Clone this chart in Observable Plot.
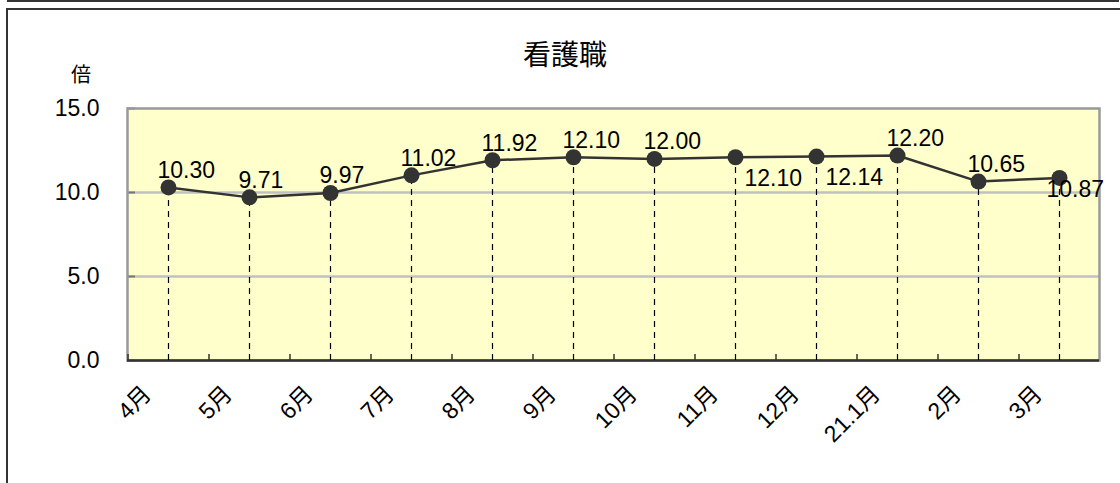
<!DOCTYPE html>
<html>
<head>
<meta charset="utf-8">
<script src="https://cdn.jsdelivr.net/npm/d3@7"></script>
<script src="https://cdn.jsdelivr.net/npm/@observablehq/plot@0.6"></script>
<style>
  html, body { margin: 0; padding: 0; background: #fff; }
  body { width: 1120px; height: 483px; position: relative; overflow: hidden; }
  #prevbox { position: absolute; left: 7px; top: -52px; width: 1112px; height: 54px; box-sizing: border-box; border: 2px solid #333; }
  #box { position: absolute; left: 6px; top: 8px; width: 1130px; height: 600px; box-sizing: border-box; border: 2px solid #333; }
  #title { position: absolute; left: 465px; width: 200px; top: 37px; text-align: center; font: 28px/32px "Noto Sans CJK JP", sans-serif; color: #000; }
  #unit { position: absolute; left: 61px; width: 40px; top: 62px; text-align: center; font: 20px/24px "Noto Sans CJK JP", sans-serif; color: #000; }
  #chart { position: absolute; left: 0; top: 0; }
</style>
</head>
<body>
<div id="prevbox"></div>
<div id="box"></div>
<div id="title">看護職</div>
<div id="unit">倍</div>
<div id="chart"></div>
<script>
// ---- data ----
const months = ["4月","5月","6月","7月","8月","9月","10月","11月","12月","21.1月","2月","3月"];
const values = [10.30, 9.71, 9.97, 11.02, 11.92, 12.10, 12.00, 12.10, 12.14, 12.20, 10.65, 10.87];
const labelPlacement = ["above","above","above","above","above","above","above","below","below","above","above","under"];
const yTicks = [0, 5, 10, 15];

const data = months.map((m, i) => ({month: m, value: values[i], place: labelPlacement[i]}));

// ---- layout ----
const W = 1120, H = 483;
const mL = 127, mR = 21, mT = 108, mB = 123;
const plotW = W - mL - mR, plotH = H - mT - mB;
const step = plotW / months.length;

const numFont = '"Liberation Sans", "Noto Sans CJK JP", sans-serif';
const lblFont = '"Liberation Sans", "Noto Sans CJK JP", sans-serif';

const placeStyle = {
  above: {dx: -11, dy: -17},
  below: {dx: 9, dy: 21},
  under: {dx: -13, dy: 12}
};

const chart = Plot.plot({
  width: W,
  height: H,
  marginLeft: mL,
  marginRight: mR,
  marginTop: mT,
  marginBottom: mB,
  style: {background: "transparent", overflow: "visible", fontFamily: numFont},
  x: {type: "point", domain: months, padding: 0.5, axis: null},
  y: {domain: [0, 15], axis: null},
  marks: [
    Plot.frame({fill: "#ffffcc", stroke: null}),
    Plot.ruleY([5, 10], {stroke: "#c0c0c0", strokeWidth: 2.5}),
    Plot.ruleY(yTicks, {stroke: "#777", strokeWidth: 2, insetRight: plotW - 8}),
    Plot.frame({stroke: "#999", strokeWidth: 2.5}),
    Plot.ruleY([0], {stroke: "#333", strokeWidth: 2.5}),
    Plot.ruleX(months, {x: d => d, dx: -step / 2, insetTop: plotH - 6, stroke: "#333", strokeWidth: 1.5}),
    Plot.ruleX(data, {x: "month", y1: 0, y2: "value", stroke: "#000", strokeWidth: 1.2, strokeDasharray: "6,5", insetBottom: 2}),
    Plot.line(data, {x: "month", y: "value", stroke: "#333", strokeWidth: 2.5}),
    Plot.dot(data, {x: "month", y: "value", r: 8, fill: "#333", stroke: null}),
    ...Object.entries(placeStyle).map(([p, s]) =>
      Plot.text(data.filter(d => d.place === p), {
        x: "month", y: "value", text: d => d.value.toFixed(2),
        textAnchor: "start", dx: s.dx, dy: s.dy, fontSize: 23, fill: "#000",
        fontFamily: numFont
      })
    ),
    Plot.text(yTicks, {
      y: d => d, frameAnchor: "left", text: d => d.toFixed(1),
      textAnchor: "end", dx: -28, fontSize: 23, fill: "#000", fontFamily: numFont
    }),
    Plot.text(months, {
      x: d => d, frameAnchor: "bottom", text: d => d,
      rotate: -45, textAnchor: "end", dx: -16, dy: 35, fontSize: 23, fill: "#000",
      fontFamily: lblFont
    })
  ]
});
document.getElementById("chart").appendChild(chart);
</script>
</body>
</html>
